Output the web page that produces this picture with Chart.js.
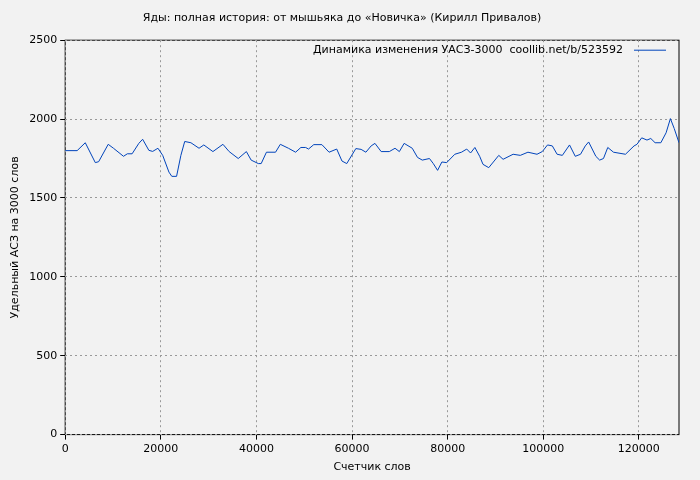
<!DOCTYPE html>
<html><head><meta charset="utf-8">
<script src="https://cdn.jsdelivr.net/npm/chart.js@4"></script>
<style>html,body{margin:0;background:#f2f2f2}#w{width:700px;height:480px}</style>
</head><body><div id="w"><canvas id="c"></canvas></div>
<script>
const title = "Яды: полная история: от мышьяка до «Новичка» (Кирилл Привалов)";
const seriesLabel = "Динамика изменения УАСЗ-3000  coollib.net/b/523592";
const xLabel = "Счетчик слов";
const yLabel = "Удельный АСЗ на 3000 слов";
const xs = [0,2500,4200,6300,7000,9000,10100,12200,13000,14000,15400,16200,17500,18300,19400,20400,21700,22300,23300,24200,25000,26300,28000,29000,30900,33000,34300,36200,37900,38900,40400,41000,42100,44000,45000,46700,48200,49300,50300,50900,52000,53700,55200,56800,57900,58900,60800,61900,62900,64000,64800,66100,67800,69000,69900,70900,72600,73700,74700,76200,77000,77900,78800,79800,81500,82900,84000,84800,85700,86700,87400,88600,90700,91600,93700,95200,96800,98700,99800,100900,101900,102900,104000,105500,106700,107800,108800,109500,111000,111800,112600,113500,114700,117200,119000,119600,120600,121700,122500,123400,124600,125700,126600,127400,128400];
const ys = [1800,1800,1850,1724,1730,1840,1815,1764,1780,1780,1846,1872,1802,1795,1815,1770,1664,1637,1637,1770,1858,1850,1815,1836,1794,1840,1794,1750,1794,1740,1718,1718,1790,1790,1840,1815,1790,1820,1820,1810,1838,1838,1790,1810,1734,1718,1813,1808,1790,1830,1846,1794,1794,1815,1794,1846,1815,1757,1740,1750,1718,1675,1728,1724,1777,1790,1810,1785,1820,1764,1713,1692,1770,1745,1777,1770,1790,1777,1794,1836,1830,1777,1770,1836,1764,1777,1830,1855,1764,1740,1750,1820,1790,1777,1830,1840,1881,1867,1877,1850,1850,1913,2003,1940,1850];
const xTicks = [0,20000,40000,60000,80000,100000,120000];
const yTicks = [0,500,1000,1500,2000,2500];
const F = "'DejaVu Sans'";
const legendPlugin = {id:'lg', afterDraw(ch){const {ctx,chartArea:a}=ch;ctx.save();ctx.font="11px "+F;ctx.fillStyle="#000";ctx.textBaseline="middle";ctx.textAlign="right";const y=a.top+10;ctx.fillText(seriesLabel,a.right-56,y);ctx.strokeStyle="#0044bb";ctx.lineWidth=1;ctx.beginPath();ctx.moveTo(a.right-45,y);ctx.lineTo(a.right-13,y);ctx.stroke();ctx.restore();}};
const bg = {id:'bg',beforeDraw(ch){const {ctx,chartArea:a}=ch;ctx.save();ctx.strokeStyle="#000";ctx.lineWidth=1;ctx.strokeRect(a.left,a.top,a.right-a.left,a.bottom-a.top);ctx.restore();}};
new Chart(document.getElementById('c'),{type:'line',
data:{datasets:[{data:xs.map((x,i)=>({x,y:ys[i]})),borderColor:'#0044bb',borderWidth:1,pointRadius:0,tension:0}]},
options:{responsive:true,maintainAspectRatio:false,animation:false,
layout:{padding:{left:5,right:21,top:4,bottom:2}},
plugins:{legend:{display:false},tooltip:{enabled:false},
title:{display:true,text:title,font:{family:F,size:11,weight:'normal'},color:'#000',padding:{top:8,bottom:15}}},
scales:{x:{type:'linear',min:0,max:128400,afterBuildTicks(s){s.ticks=xTicks.map(v=>({value:v}));},
ticks:{font:{family:F,size:11},color:'#000',maxRotation:0,callback:v=>String(v)},
grid:{color:'#999',tickColor:'#000',tickLength:5,drawTicks:true},border:{dash:[2,3],display:false},
title:{display:true,text:xLabel,font:{family:F,size:11},color:'#000',padding:{top:2}}},
y:{min:0,max:2500,afterBuildTicks(s){s.ticks=yTicks.map(v=>({value:v}));},
ticks:{font:{family:F,size:11},color:'#000',callback:v=>String(v)},
grid:{color:'#999',tickColor:'#000',tickLength:5},border:{dash:[2,3],display:false},
title:{display:true,text:yLabel,font:{family:F,size:11},color:'#000'}}}},
plugins:[bg,legendPlugin]});
</script></body></html>
